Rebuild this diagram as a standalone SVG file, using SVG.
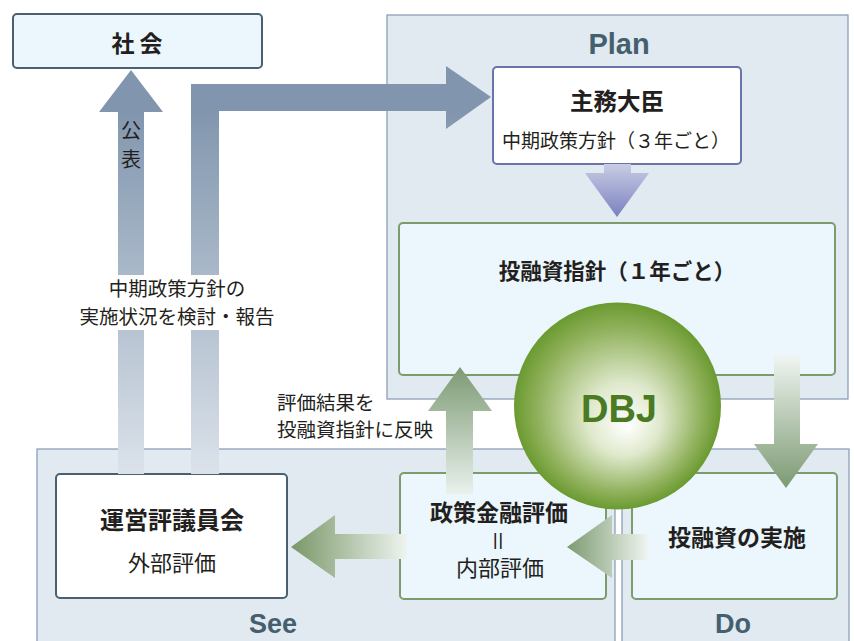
<svg xmlns="http://www.w3.org/2000/svg" width="854" height="641" viewBox="0 0 854 641">
<defs>
<style>
.panel{fill:#e1e9f1;stroke:#8499b2;stroke-width:1.2}
.jp{font-family:"Noto Sans CJK JP","Noto Sans",sans-serif;fill:#231f20}
.b{font-weight:bold}
.lat{font-family:"Liberation Sans",Arial,sans-serif;font-weight:bold;fill:#44606e}
.boxg{fill:#ebf7fc;stroke:#7c9c6e;stroke-width:2}
</style>
<linearGradient id="gBlue" gradientUnits="userSpaceOnUse" x1="0" y1="110" x2="0" y2="474">
<stop offset="0" stop-color="#8196ae"/><stop offset="1" stop-color="#dbe2ea"/>
</linearGradient>
<linearGradient id="gPurple" gradientUnits="userSpaceOnUse" x1="0" y1="164" x2="0" y2="217">
<stop offset="0" stop-color="#c9cde3"/><stop offset="1" stop-color="#7a80c0"/>
</linearGradient>
<linearGradient id="gLeft1" gradientUnits="userSpaceOnUse" x1="291" y1="0" x2="407" y2="0">
<stop offset="0" stop-color="#7a9768"/><stop offset="1" stop-color="#eef4f0"/>
</linearGradient>
<linearGradient id="gLeft2" gradientUnits="userSpaceOnUse" x1="567" y1="0" x2="648" y2="0">
<stop offset="0" stop-color="#7c9a70"/><stop offset="1" stop-color="#eff4f0"/>
</linearGradient>
<linearGradient id="gUp" gradientUnits="userSpaceOnUse" x1="0" y1="367" x2="0" y2="494">
<stop offset="0" stop-color="#7d9a74"/><stop offset="1" stop-color="#e9f1ec"/>
</linearGradient>
<linearGradient id="gDown" gradientUnits="userSpaceOnUse" x1="0" y1="355" x2="0" y2="488">
<stop offset="0" stop-color="#f0f5f2"/><stop offset="1" stop-color="#7c9a72"/>
</linearGradient>
<radialGradient id="gBall" cx="0.5" cy="0.5" r="0.5" fx="0.55" fy="0.6">
<stop offset="0" stop-color="#ffffff"/><stop offset="0.35" stop-color="#dfe9cc"/><stop offset="0.8" stop-color="#8fb05a"/><stop offset="1" stop-color="#6a9a30"/>
</radialGradient>
</defs>

<g id="plan-panel">
<rect class="panel" x="387" y="15" width="461" height="384"/>
<text class="lat" x="619" y="54" font-size="29" text-anchor="middle">Plan</text>
</g>
<g id="see-panel">
<rect class="panel" x="37" y="449" width="578" height="200"/>
<text class="lat" x="273" y="633" font-size="27" text-anchor="middle">See</text>
</g>
<g id="do-panel">
<rect class="panel" x="622" y="449" width="227" height="200"/>
<text class="lat" x="733" y="633" font-size="27" text-anchor="middle">Do</text>
</g>

<g id="shakai">
<rect x="13" y="14" width="249" height="54" rx="4" fill="#ebf7fc" stroke="#4a5f6f" stroke-width="2"/>
<text class="jp b" x="137" y="52" font-size="23" text-anchor="middle">社 会</text>
</g>

<g id="shumu-daijin">
<rect x="493" y="67" width="248" height="97" rx="4" fill="#ffffff" stroke="#6a74ac" stroke-width="2"/>
<text class="jp b" x="617" y="110" font-size="23.5" text-anchor="middle">主務大臣</text>
<text class="jp" x="616" y="148" font-size="19" text-anchor="middle" fill="#333">中期政策方針（３年ごと）</text>
</g>

<g id="shishin">
<rect class="boxg" x="399" y="223" width="436" height="152" rx="4"/>
<text class="jp b" x="617" y="279" font-size="21.5" text-anchor="middle">投融資指針（１年ごと）</text>
</g>

<g id="uneihyogi">
<rect x="56" y="474" width="231" height="124" rx="4" fill="#ffffff" stroke="#4a6070" stroke-width="2"/>
<text class="jp b" x="172" y="529" font-size="24" text-anchor="middle">運営評議員会</text>
<text class="jp" x="172" y="571" font-size="22" text-anchor="middle" fill="#333">外部評価</text>
</g>

<g id="seisaku-hyoka">
<rect class="boxg" x="400" y="473" width="206" height="126" rx="4"/>
<text class="jp b" x="499" y="521" font-size="23" text-anchor="middle">政策金融評価</text>
<text class="jp" x="0" y="0" font-size="22" text-anchor="middle" fill="#333" transform="translate(498 541) rotate(90) translate(0 8)">＝</text>
<text class="jp" x="500" y="576" font-size="22" text-anchor="middle" fill="#333">内部評価</text>
</g>

<g id="jisshi">
<rect class="boxg" x="632" y="473" width="205" height="126" rx="4"/>
<text class="jp b" x="737" y="546" font-size="23" text-anchor="middle">投融資の実施</text>
</g>

<g id="connectors">
<path d="M118 474 V112 H99 L131 70 L163 112 H144 V474 Z" fill="url(#gBlue)"/>
<path d="M191 474 V84 H446 V66 L491 97 L446 129 V111 H219 V474 Z" fill="url(#gBlue)"/>
<path d="M604 164 H631 V173 H649 L617 217 L585 173 H604 Z" fill="url(#gPurple)"/>
<path d="M407 534 H335 V515 L291 547 L335 578 V559 H407 Z" fill="url(#gLeft1)"/>
<path d="M648 534 H612 V515 L567 547 L612 578 V560 H648 Z" fill="url(#gLeft2)"/>
<path d="M446 494 V411 H428 L460 367 L492 411 H473 V494 Z" fill="url(#gUp)"/>
<path d="M774 355 H800 V444 H818 L786 488 L754 444 H774 Z" fill="url(#gDown)"/>
</g>

<g id="label-report">
<rect x="112" y="275" width="110" height="55" fill="#ffffff"/>
<text class="jp" x="177" y="296" font-size="19.5" text-anchor="middle" fill="#333">中期政策方針の</text>
<text class="jp" x="177" y="324" font-size="19.5" text-anchor="middle" fill="#333">実施状況を検討・報告</text>
<text class="jp" x="131" y="138" font-size="20" text-anchor="middle" fill="#ffffff">公</text>
<text class="jp" x="131" y="167" font-size="20" text-anchor="middle" fill="#ffffff">表</text>
</g>

<g id="label-feedback">
<text class="jp" x="277" y="410" font-size="19.5" fill="#333">評価結果を</text>
<text class="jp" x="277" y="437" font-size="19.5" fill="#333">投融資指針に反映</text>
</g>

<g id="dbj">
<circle cx="617.5" cy="406" r="103.5" fill="url(#gBall)"/>
<text x="619" y="422" font-family="'Liberation Sans',Arial,sans-serif" font-weight="bold" font-size="38" fill="#4a7a22" text-anchor="middle">DBJ</text>
</g>
</svg>
